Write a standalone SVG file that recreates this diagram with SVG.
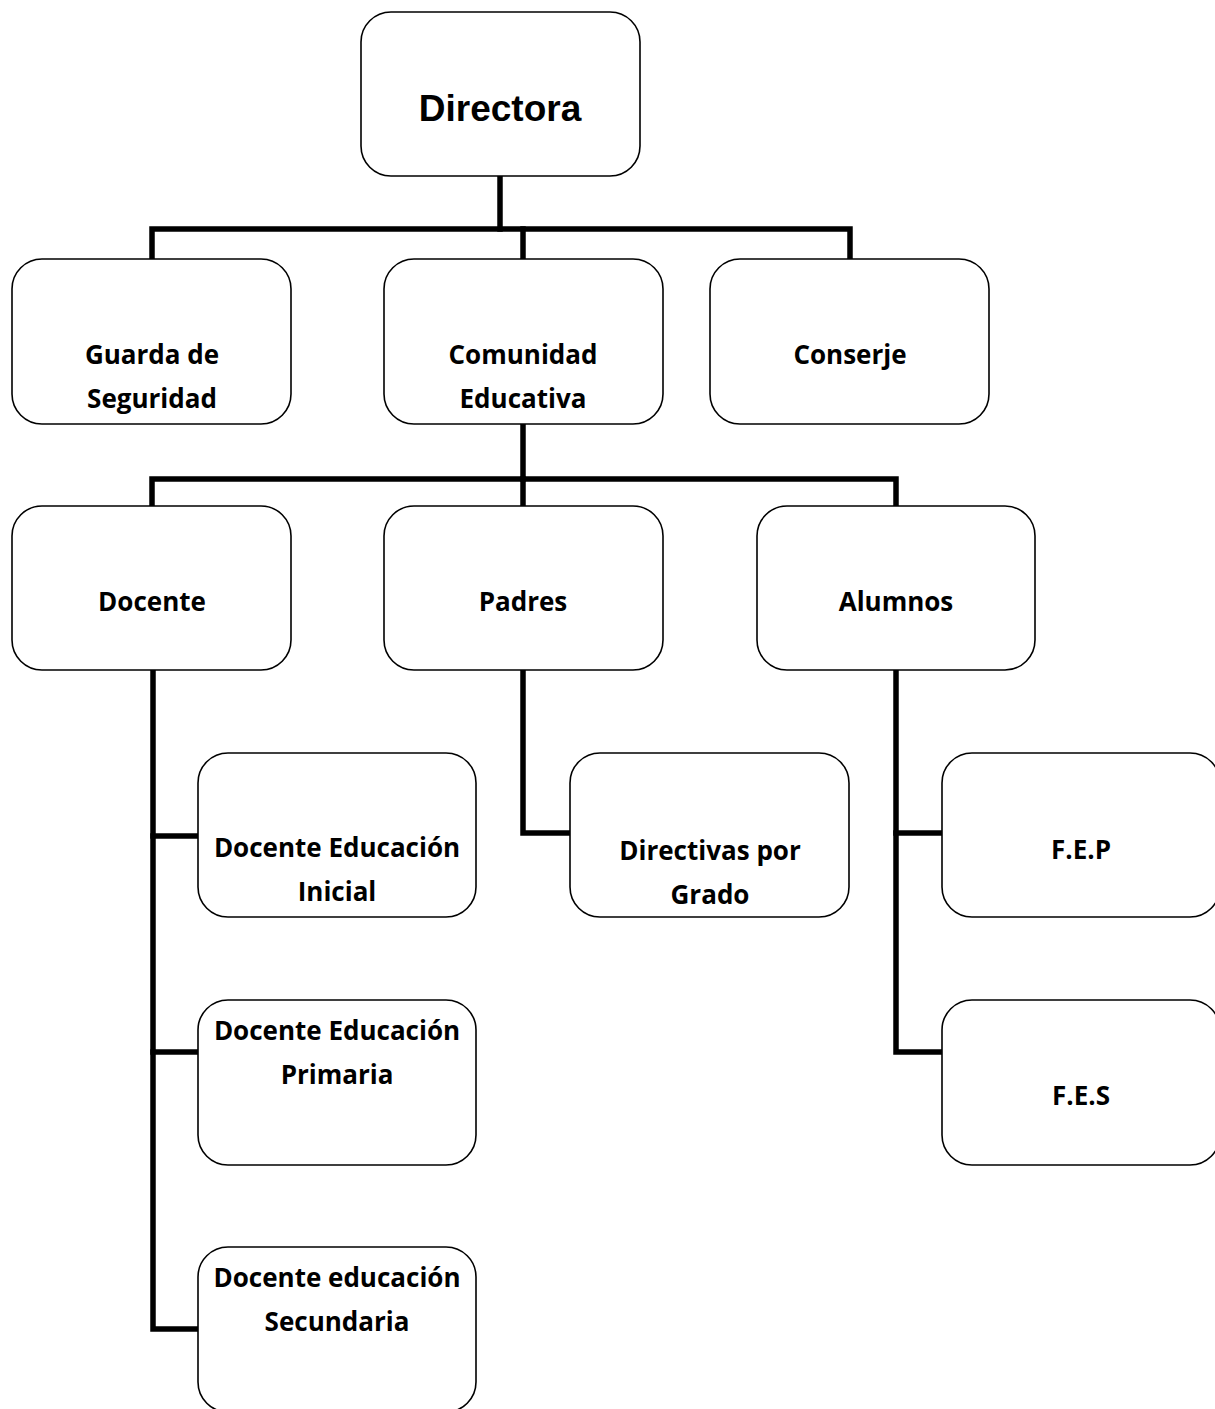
<svg xmlns="http://www.w3.org/2000/svg" width="1215" height="1409" viewBox="0 0 1215 1409">
<style>
.box{fill:#fff;stroke:#000;stroke-width:1.6}
.t{font-family:"Open Sans",Lato,"Liberation Sans",sans-serif;font-weight:bold;font-size:26px;text-anchor:middle;fill:#000}
.big{font-family:"Liberation Sans",Arial,sans-serif;font-weight:bold;font-size:37px;text-anchor:middle;fill:#000}
.c{fill:none;stroke:#000;stroke-width:5.5;stroke-linejoin:miter;stroke-linecap:square}
</style>
<rect width="1215" height="1409" fill="#fff"/>
<g id="connectors">
<path class="c" d="M500,176 V229"/>
<path class="c" d="M152,259 V229 H850 V259"/>
<path class="c" d="M523,229 V259"/>
<path class="c" d="M523,424 V479"/>
<path class="c" d="M152,506 V479 H896 V506"/>
<path class="c" d="M523,479 V506"/>
<path class="c" d="M153,670 V1329 H198"/>
<path class="c" d="M153,836 H198"/>
<path class="c" d="M153,1052 H198"/>
<path class="c" d="M523,670 V833 H570"/>
<path class="c" d="M896,670 V1052 H942"/>
<path class="c" d="M896,833 H942"/>
</g>
<g id="directora"><rect class="box" x="361" y="12" width="279" height="164" rx="30"/><text class="big" x="500" y="121">Directora</text></g>
<g id="guarda"><rect class="box" x="12" y="259" width="279" height="165" rx="30"/><text class="t" x="152" y="364">Guarda de</text><text class="t" x="152" y="408">Seguridad</text></g>
<g id="comunidad"><rect class="box" x="384" y="259" width="279" height="165" rx="30"/><text class="t" x="523" y="364">Comunidad</text><text class="t" x="523" y="408">Educativa</text></g>
<g id="conserje"><rect class="box" x="710" y="259" width="279" height="165" rx="30"/><text class="t" x="850" y="364">Conserje</text></g>
<g id="docente"><rect class="box" x="12" y="506" width="279" height="164" rx="30"/><text class="t" x="152" y="611">Docente</text></g>
<g id="padres"><rect class="box" x="384" y="506" width="279" height="164" rx="30"/><text class="t" x="523" y="611">Padres</text></g>
<g id="alumnos"><rect class="box" x="757" y="506" width="278" height="164" rx="30"/><text class="t" x="896" y="611">Alumnos</text></g>
<g id="inicial"><rect class="box" x="198" y="753" width="278" height="164" rx="30"/><text class="t" x="337" y="857">Docente Educación</text><text class="t" x="337" y="901">Inicial</text></g>
<g id="primaria"><rect class="box" x="198" y="1000" width="278" height="165" rx="30"/><text class="t" x="337" y="1040">Docente Educación</text><text class="t" x="337" y="1084">Primaria</text></g>
<g id="secundaria"><rect class="box" x="198" y="1247" width="278" height="165" rx="30"/><text class="t" x="337" y="1287">Docente educación</text><text class="t" x="337" y="1331">Secundaria</text></g>
<g id="directivas"><rect class="box" x="570" y="753" width="279" height="164" rx="30"/><text class="t" x="710" y="860">Directivas por</text><text class="t" x="710" y="904">Grado</text></g>
<g id="fep"><rect class="box" x="942" y="753" width="278" height="164" rx="30"/><text class="t" x="1081" y="859">F.E.P</text></g>
<g id="fes"><rect class="box" x="942" y="1000" width="278" height="165" rx="30"/><text class="t" x="1081" y="1105">F.E.S</text></g>
</svg>
